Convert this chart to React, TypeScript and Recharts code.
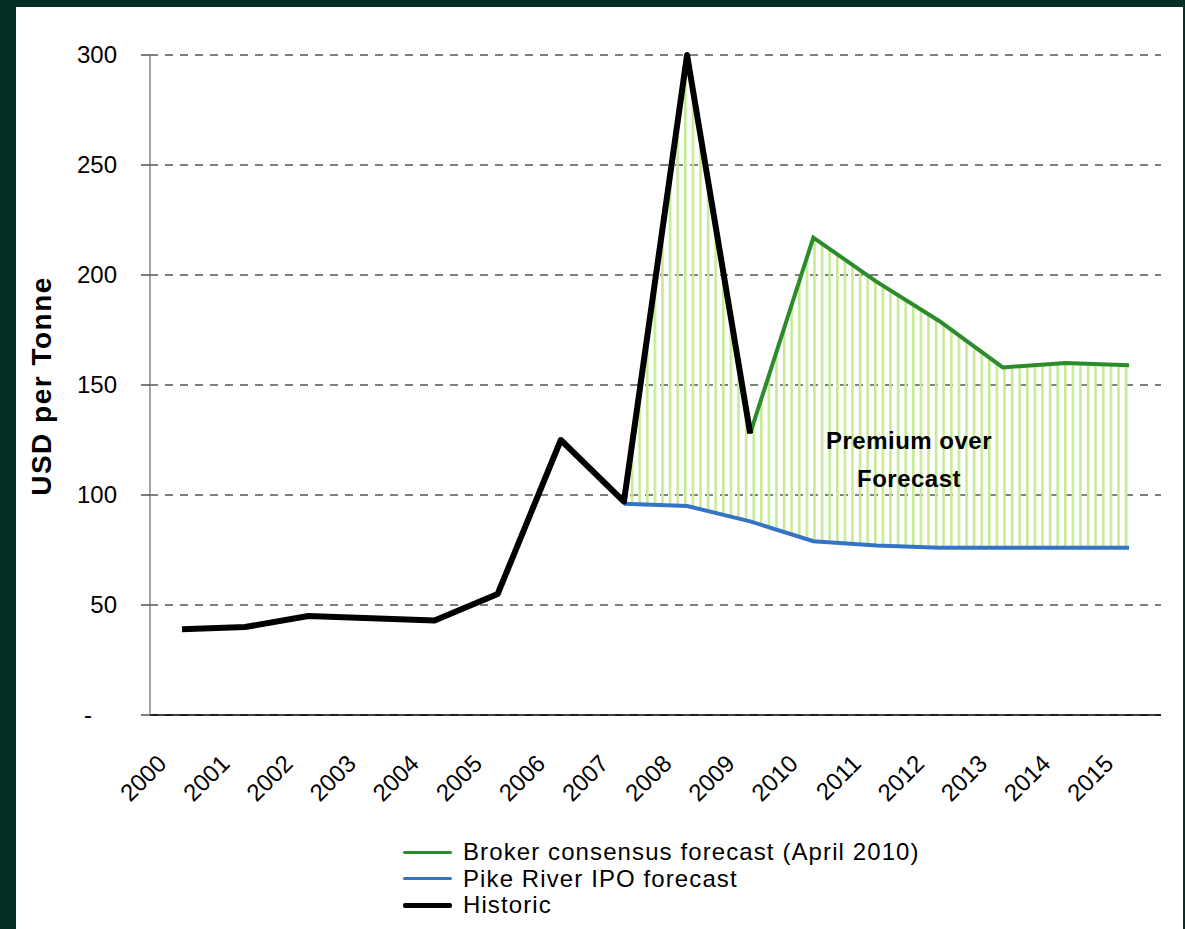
import { Area, CartesianGrid, ComposedChart, Line, XAxis, YAxis } from 'recharts'

const years = ['2000', '2001', '2002', '2003', '2004', '2005', '2006', '2007', '2008', '2009', '2010', '2011', '2012', '2013', '2014', '2015']
const historic = [39, 40, 45, 44, 43, 55, 125, 97, 300, 128, null, null, null, null, null, null]
const broker = [null, null, null, null, null, null, null, 97, 300, 128, 217, 197, 179, 158, 160, 159]
const pikeRiver = [null, null, null, null, null, null, null, 96, 95, 88, 79, 77, 76, 76, 76, 76]
const yTicks = [0, 50, 100, 150, 200, 250, 300]

const series = [
  { name: 'Broker consensus forecast (April 2010)', color: '#2a8c2a', width: 3 },
  { name: 'Pike River IPO forecast', color: '#3474c6', width: 3 },
  { name: 'Historic', color: '#000000', width: 5 },
]

const data = years.map((year, i) => ({
  year,
  historic: historic[i],
  broker: broker[i],
  pike: pikeRiver[i],
  premium: broker[i] != null && pikeRiver[i] != null ? [pikeRiver[i], broker[i]] : null,
}))

const font = '"Liberation Sans", Arial, sans-serif'

function YearTick({ x, y, payload }: any) {
  return (
    <text x={x - 14} y={y + 42} transform={`rotate(-45, ${x - 14}, ${y + 42})`} textAnchor="end" fontSize={24} fill="#000" fontFamily={font}>
      {payload.value}
    </text>
  )
}

function ValueTick({ x, y, payload }: any) {
  const zero = payload.value === 0
  return (
    <text x={zero ? x - 25 : x} y={y} dy={8} textAnchor="end" fontSize={24} fill="#000" fontFamily={font}>
      {zero ? '-' : payload.value}
    </text>
  )
}

function YLabel() {
  return (
    <text x={51} y={386} transform="rotate(-90, 51, 386)" textAnchor="middle" fontSize={28} fontWeight="bold" letterSpacing={1.5} fill="#000" fontFamily={font}>
      USD per Tonne
    </text>
  )
}

export default function App() {
  return (
    <div style={{ position: 'absolute', left: 0, top: 0, width: 1185, height: 929, background: '#042f25', fontFamily: font }}>
      <div style={{ position: 'absolute', left: 16, top: 7, width: 1167, height: 922, background: '#fff' }} />
      <div style={{ position: 'absolute', left: 0, top: 0 }}>
        <ComposedChart width={1185} height={929} data={data} margin={{ top: 55, right: 24, left: 0, bottom: 114 }}>
          <defs>
            <pattern id="stripes" width={7.6} height={10} patternUnits="userSpaceOnUse">
              <rect x={0} y={0} width={2.6} height={10} fill="#c6eb94" />
            </pattern>
          </defs>
          <CartesianGrid vertical={false} stroke="#000" strokeDasharray="8 7" />
          <XAxis dataKey="year" interval={0} padding={{ left: 32, right: 32 }} height={100} tickLine={false} axisLine={{ stroke: '#000', strokeWidth: 1.5 }} tick={<YearTick />} />
          <YAxis domain={[0, 300]} ticks={yTicks} width={150} tickSize={9} tickMargin={24} tickLine={{ stroke: '#000' }} axisLine={{ stroke: '#888', strokeWidth: 1.5 }} tick={<ValueTick />} label={<YLabel />} />
          <Area dataKey="premium" stroke="none" fill="url(#stripes)" fillOpacity={1} isAnimationActive={false} activeDot={false} />
          <Line dataKey="pike" stroke="#3474c6" strokeWidth={4} dot={false} isAnimationActive={false} />
          <Line dataKey="broker" stroke="#2a8c2a" strokeWidth={4} dot={false} isAnimationActive={false} />
          <Line dataKey="historic" stroke="#000" strokeWidth={6} strokeLinejoin="round" dot={false} isAnimationActive={false} />
        </ComposedChart>
      </div>
      <div style={{ position: 'absolute', left: 789, top: 422, width: 240, textAlign: 'center', fontSize: 24, fontWeight: 'bold', lineHeight: '38px', letterSpacing: 0.5 }}>
        Premium over
        <br />
        Forecast
      </div>
      <div style={{ position: 'absolute', left: 403, top: 839, fontSize: 24, letterSpacing: 1.1, color: '#000' }}>
        {series.map((s) => (
          <div key={s.name} style={{ display: 'flex', alignItems: 'center', whiteSpace: 'nowrap', height: 26.5 }}>
            <div style={{ width: 49, height: s.width, background: s.color, borderRadius: 2, marginRight: 11 }} />
            <span style={{ lineHeight: '26.5px' }}>{s.name}</span>
          </div>
        ))}
      </div>
    </div>
  )
}
